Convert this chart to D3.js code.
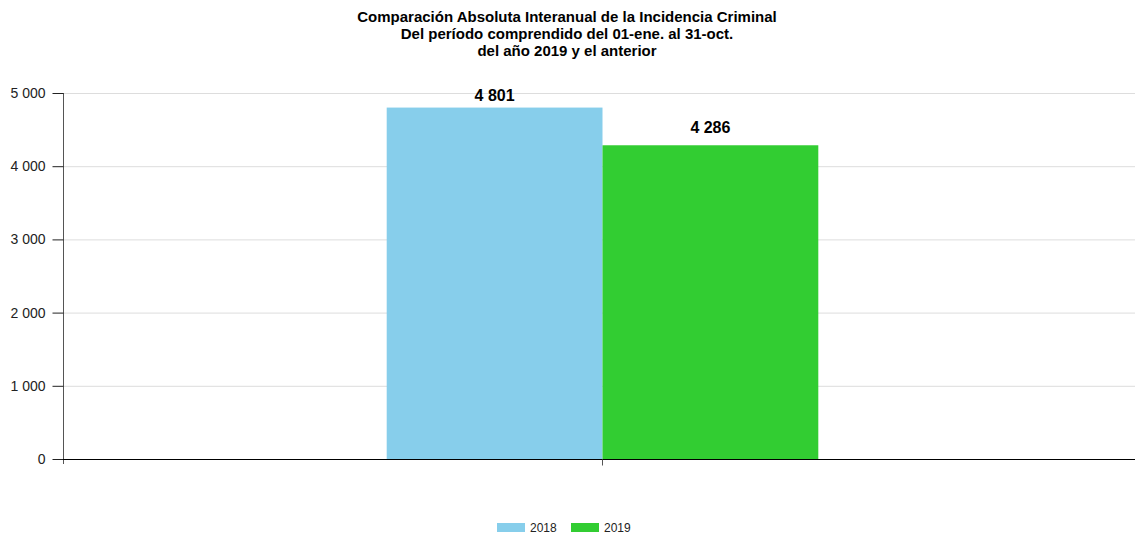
<!DOCTYPE html>
<html><head><meta charset="utf-8">
<script src="https://cdn.jsdelivr.net/npm/d3@7"></script>
<style>body{margin:0;background:#fff;} svg{display:block;font-family:"Liberation Sans",Arial,sans-serif;}</style>
</head><body>
<svg id="c" width="1135" height="534"></svg>
<script>
const titleLines = ["Comparación Absoluta Interanual de la Incidencia Criminal","Del período comprendido del 01-ene. al 31-oct.","del año 2019 y el anterior"];
const categories = [""];
const seriesNames = ["2018","2019"];
const seriesValues = [4801, 4286];
const seriesColors = ["#87CEEB","#32CD32"];
const yTicks = [0,1000,2000,3000,4000,5000];

const svg = d3.select("#c");
const m = {left:63, right:-7, top:93, bottom:75};
const W = 1135, H = 534;
const x0 = d3.scaleBand().domain(categories).range([m.left, W - m.right]).paddingInner(0).paddingOuter(0.75);
const x1 = d3.scaleBand().domain(seriesNames).range([0, x0.bandwidth()]);
const y = d3.scaleLinear().domain([0,5000]).range([H - m.bottom, m.top]);
const fmt = v => d3.format(",")(v).replace(/,/g," ");

svg.selectAll("text.title").data(titleLines).enter().append("text")
  .attr("x", 567).attr("y",(d,i)=>22+i*17).attr("text-anchor","middle")
  .attr("font-size","15px").attr("font-weight","bold").attr("fill","#000").text(d=>d);

// grid
svg.append("g").selectAll("line").data(yTicks.filter(d=>d>0)).enter().append("line")
  .attr("x1", m.left).attr("x2", W).attr("y1", d=>y(d)+0.5).attr("y2", d=>y(d)+0.5)
  .attr("stroke","#ddd").attr("stroke-width",1);

// bars
const g = svg.append("g");
seriesNames.forEach((s,i)=>{
  g.append("rect").attr("x", x0(categories[0]) + x1(s)).attr("width", x1.bandwidth())
    .attr("y", y(seriesValues[i])).attr("height", y(0)-y(seriesValues[i]))
    .attr("fill", seriesColors[i]);
  g.append("text").attr("x", x0(categories[0]) + x1(s) + x1.bandwidth()/2)
    .attr("y", Math.max(y(seriesValues[i]) - 12, m.top + 8)).attr("text-anchor","middle")
    .attr("font-size","16px").attr("font-weight","bold").attr("fill","#000").text(fmt(seriesValues[i]));
});

// y axis
const ya = svg.append("g").attr("transform",`translate(${m.left+0.5},0)`)
  .call(d3.axisLeft(y).tickValues(yTicks).tickFormat(fmt).tickSize(11).tickPadding(7));
ya.select(".domain").attr("stroke","#555").attr("d",`M0,${m.top}V${y(0)+5}`);
ya.selectAll(".tick line").attr("stroke","#222");
ya.selectAll(".tick text").attr("font-size","14px").attr("fill","#222").attr("font-family","Liberation Sans,Arial,sans-serif");

// x axis
const xa = svg.append("g").attr("transform",`translate(0,${y(0)+0.5})`)
  .call(d3.axisBottom(x0).tickSize(6).tickFormat(""));
xa.select(".domain").attr("stroke","#000").attr("d",`M${m.left},0H${W}`);
xa.selectAll(".tick line").attr("stroke","#555");

// legend
const lg = svg.append("g");
const lx = [497, 571];
seriesNames.forEach((s,i)=>{
  lg.append("rect").attr("x", lx[i]).attr("y", 523).attr("width", 28).attr("height", 9).attr("fill", seriesColors[i]);
  lg.append("text").attr("x", lx[i]+33).attr("y", 532).attr("font-size","12px").attr("fill","#222").text(s);
});
</script>
</body></html>
